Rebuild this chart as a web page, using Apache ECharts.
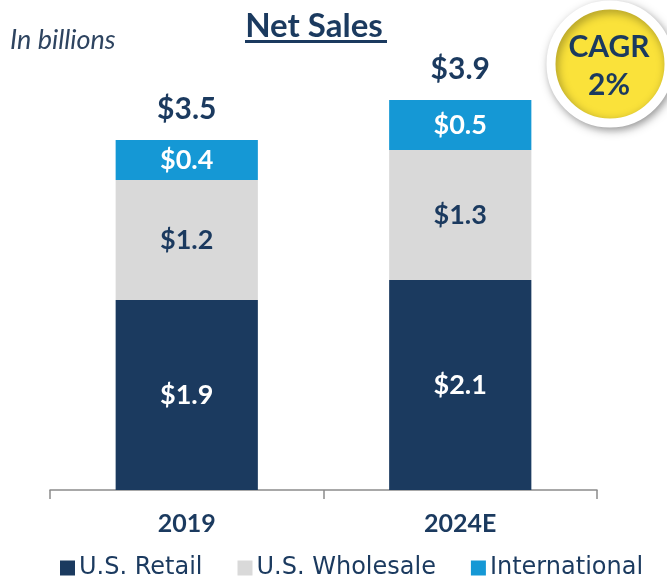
<!DOCTYPE html>
<html>
<head>
<meta charset="utf-8">
<script src="https://cdn.jsdelivr.net/npm/echarts@6/dist/echarts.min.js"></script>
<style>
  html, body { margin: 0; padding: 0; background: #fff; }
  #chart { width: 667px; height: 579px; }
</style>
</head>
<body>
<div id="chart"></div>
<script>
const years = ['2019', '2024E']
const retail = [1.9, 2.1]
const wholesale = [1.2, 1.3]
const intl = [0.4, 0.5]
const totals = [3.5, 3.9]

const navy = '#1b3a5f'
const font = 'Lato'
const money = v => '$' + v.toFixed(1)

const chart = echarts.init(document.getElementById('chart'))

function seg(name, data, color, labelColor) {
  return {
    name, type: 'bar', stack: 'sales', data, barWidth: '52%',
    itemStyle: { color },
    label: { show: true, position: 'inside', color: labelColor, fontFamily: font, fontWeight: 'bold', fontSize: 27, formatter: p => money(p.value) }
  }
}

chart.setOption({
  animation: false,
  grid: { left: 50, right: 70, top: 40, bottom: 89 },
  title: {
    text: 'Net Sales', left: 309, top: 5, textAlign: 'center',
    textStyle: { color: navy, fontFamily: font, fontWeight: 'bold', fontSize: 33 }
  },
  legend: {
    data: ['U.S. Retail', 'U.S. Wholesale', 'International'],
    bottom: -6, left: 55, itemWidth: 15, itemHeight: 15, itemGap: 35, icon: 'rect',
    textStyle: { color: navy, fontFamily: 'DejaVu Sans', fontSize: 24, padding: [0, 0, 0, -1] }
  },
  xAxis: {
    type: 'category', data: years,
    axisLine: { lineStyle: { color: '#8c8c8c', width: 1.5 } },
    axisTick: { show: true, length: 9, lineStyle: { color: '#8c8c8c', width: 1.5 } },
    axisLabel: { color: navy, fontFamily: font, fontWeight: 'bold', fontSize: 25, margin: 21 }
  },
  yAxis: { type: 'value', min: 0, max: 4.5, show: false },
  series: [
    seg('U.S. Retail', retail, navy, '#ffffff'),
    seg('U.S. Wholesale', wholesale, '#d9d9d9', navy),
    seg('International', intl, '#1598d5', '#ffffff'),
    {
      name: 'Total', type: 'bar', stack: 'sales', data: totals.map(() => 0),
      label: { show: true, position: 'top', distance: 16, color: navy, fontFamily: font, fontWeight: 'bold', fontSize: 30, formatter: p => money(totals[p.dataIndex]) }
    }
  ],
  graphic: [
    { type: 'text', left: 10, top: 27, style: { text: 'In billions', fill: '#2e4460', font: 'italic 27px ' + font } },
    { type: 'rect', shape: { x: 245, y: 40, width: 142, height: 3 }, style: { fill: navy } },
    {
      type: 'circle', shape: { cx: 610, cy: 64, r: 59 },
      style: { fill: '#fae23a', stroke: '#ffffff', lineWidth: 9, shadowBlur: 10, shadowColor: 'rgba(0,0,0,0.35)', shadowOffsetX: 2, shadowOffsetY: 3 }
    },
    { type: 'text', x: 609, y: 47, style: { text: 'CAGR', fill: navy, font: 'bold 30px ' + font, align: 'center', verticalAlign: 'middle' } },
    { type: 'text', x: 609, y: 85, style: { text: '2%', fill: navy, font: 'bold 30px ' + font, align: 'center', verticalAlign: 'middle' } }
  ]
})
</script>
</body>
</html>
